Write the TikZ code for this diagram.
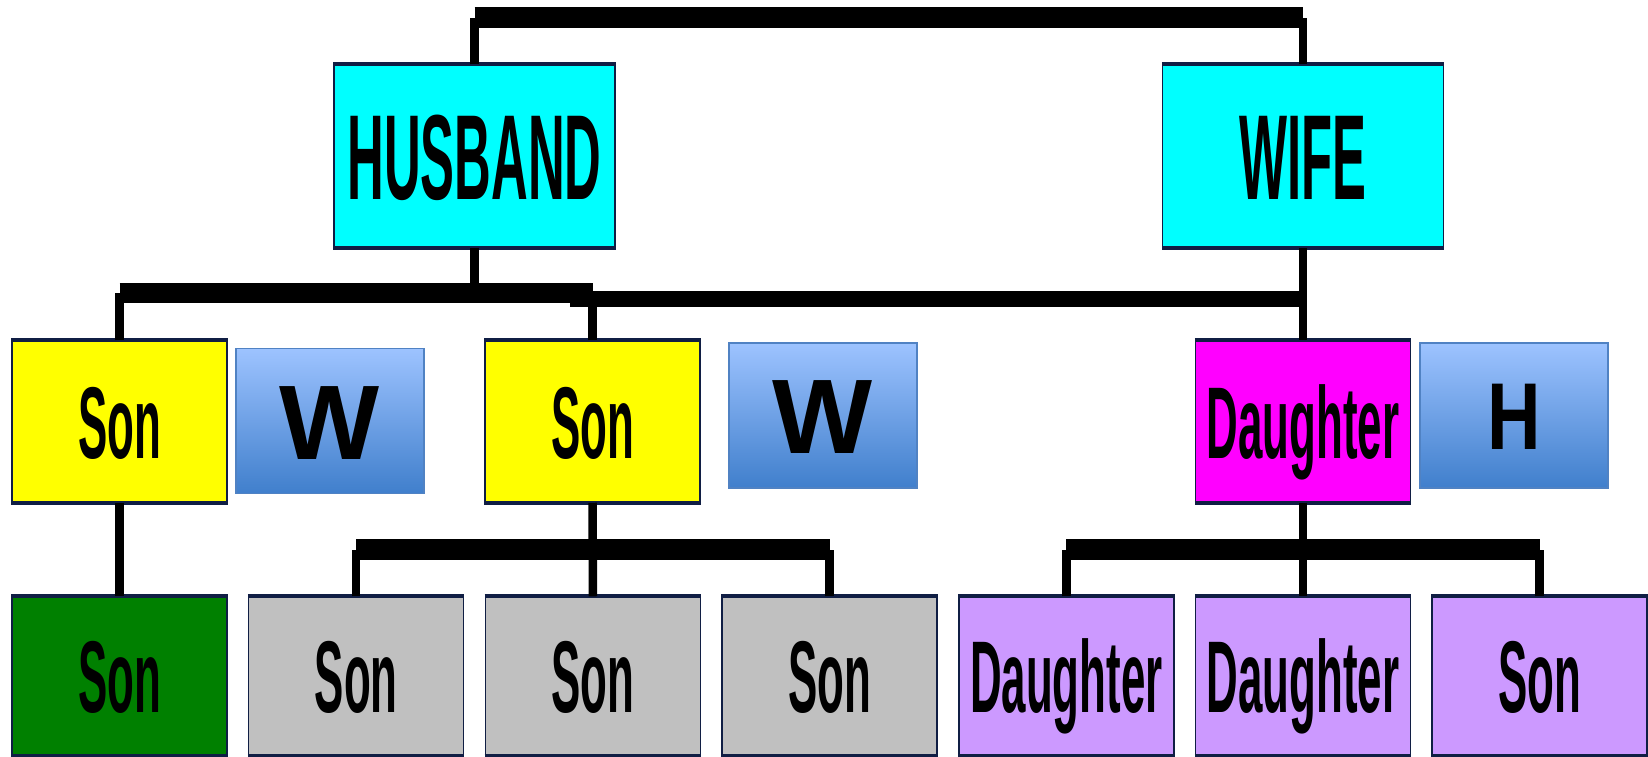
\documentclass[tikz,border=0pt]{standalone}
\usepackage{fontspec}
\setmainfont{Liberation Sans}
\usepackage{graphicx}
\definecolor{navyb}{RGB}{16,30,68}
\definecolor{cyanb}{RGB}{0,255,255}
\definecolor{yelb}{RGB}{255,255,0}
\definecolor{magb}{RGB}{255,0,255}
\definecolor{greenb}{RGB}{0,128,0}
\definecolor{grayb}{RGB}{192,192,192}
\definecolor{purpb}{RGB}{204,153,255}
\definecolor{bluetop}{RGB}{157,195,255}
\definecolor{bluebot}{RGB}{64,127,204}
\definecolor{bordb}{RGB}{80,130,195}
\newcommand{\nartxt}[1]{\scalebox{0.43}[1]{#1}}
\tikzset{
  box/.style={rectangle, draw=navyb, line width=1.5pt, inner sep=0pt,
    minimum width=215pt, minimum height=161pt, text height=73pt, text depth=0pt,
    font=\bfseries\fontsize{102pt}{102pt}\selectfont},
  big/.style={box, minimum width=281pt, minimum height=182pt, text height=87pt,
    font=\bfseries\fontsize{121pt}{121pt}\selectfont},
  low/.style={box, minimum height=158pt},
  spouse/.style={rectangle, draw=bordb, line width=1.2pt, top color=bluetop,
    bottom color=bluebot, minimum width=188pt, minimum height=145pt, inner sep=0pt,
    text height=76pt, text depth=0pt, font=\bfseries\fontsize{106pt}{106pt}\selectfont},
  vline/.style={line width=8.5pt, draw=black},
  bar/.style={line width=21pt, draw=black},
  rim/.style={line width=4pt, draw=navyb},
}
\begin{document}
\begin{tikzpicture}[x=1pt,y=-1pt]
\useasboundingbox (0,0) rectangle (1648,756);
% generation 1
\node[big, fill=cyanb] (hus) at (474.5,156) {\scalebox{0.42}[1]{HUSBAND}};
\node[big, fill=cyanb] (wife) at (1303,156) {\scalebox{0.42}[1]{WIFE}};
% generation 2
\node[box, fill=yelb] (s1) at (119.5,421.5) {\nartxt{Son}};
\node[spouse] (w1) at (330,421) {W};
\node[box, fill=yelb] (s2) at (592.5,421.5) {\nartxt{Son}};
\node[spouse] (w2) at (823,415.5) {W};
\node[box, fill=magb] (d) at (1303,421.5) {\nartxt{Daughter}};
\node[spouse, text height=68pt, font=\bfseries\fontsize{95pt}{95pt}\selectfont] (h) at (1514,415.5) {\scalebox{0.78}[1]{H}};
% generation 3
\node[low, fill=greenb] (g1) at (119.5,676) {\nartxt{Son}};
\node[low, fill=grayb] (c1) at (356.2,676) {\nartxt{Son}};
\node[low, fill=grayb] (c2) at (592.9,676) {\nartxt{Son}};
\node[low, fill=grayb] (c3) at (829.6,676) {\nartxt{Son}};
\node[low, fill=purpb] (p1) at (1066.3,676) {\nartxt{Daughter}};
\node[low, fill=purpb] (p2) at (1303,676) {\nartxt{Daughter}};
\node[low, fill=purpb] (p3) at (1539.7,676) {\nartxt{Son}};
% thick top and bottom rims
\foreach \n in {hus,wife,s1,s2,d,g1,c1,c2,c3,p1,p2,p3}{
  \draw[rim] (\n.north west) -- (\n.north east);
  \draw[rim] (\n.south west) -- (\n.south east);
}
% connectors, level 1
\coordinate (t) at (0,17.5);
\draw[bar] (hus.north |- t) -- (wife.north |- t);
\draw[vline] (hus.north) -- (hus.north |- t);
\draw[vline] (wife.north) -- (wife.north |- t);
% level 2
\coordinate (m1) at (0,293);
\coordinate (m2) at (570,299);
\draw[line width=20pt] (s1.north |- m1) -- (s2.north |- m1);
\draw[line width=16pt] (m2) -- (d.north |- m2);
\draw[vline] (hus.south) -- (hus.south |- m1);
\draw[vline] (s1.north) -- (s1.north |- m1);
\draw[vline] (s2.north) -- (s2.north |- m1);
\draw[vline] (wife.south) -- (d.north);
% level 3
\coordinate (b3) at (0,549.5);
\draw[bar] (c1.north |- b3) -- (c3.north |- b3);
\draw[bar] (p1.north |- b3) -- (p3.north |- b3);
\draw[vline] (s1.south) -- (g1.north);
\draw[vline] (s2.south) -- (c2.north);
\draw[vline] (c1.north) -- (c1.north |- b3);
\draw[vline] (c3.north) -- (c3.north |- b3);
\draw[vline] (d.south) -- (p2.north);
\draw[vline] (p1.north) -- (p1.north |- b3);
\draw[vline] (p3.north) -- (p3.north |- b3);
\end{tikzpicture}
\end{document}
